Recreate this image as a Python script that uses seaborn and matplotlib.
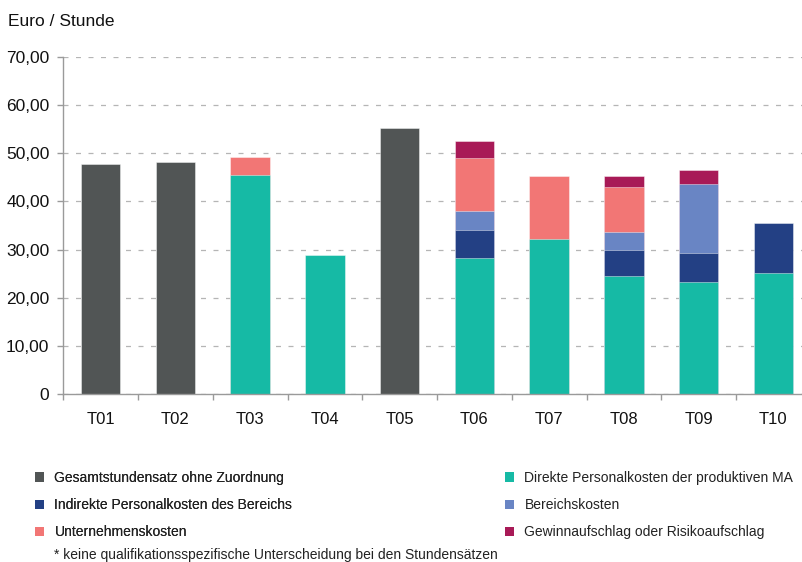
import numpy as np
import pandas as pd
import matplotlib
matplotlib.use("Agg")
import matplotlib.pyplot as plt
from matplotlib.patches import Patch
from matplotlib.ticker import FuncFormatter
import seaborn as sns

# Daten (Euro / Stunde)
categories = ["T01", "T02", "T03", "T04", "T05", "T06", "T07", "T08", "T09", "T10"]
gesamt      = [47.8, 48.2, 0.0, 0.0, 55.2, 0.0, 0.0, 0.0, 0.0, 0.0]
direkt      = [0.0, 0.0, 45.5, 28.9, 0.0, 28.3, 32.3, 24.6, 23.2, 25.1]
indirekt    = [0.0, 0.0, 0.0, 0.0, 0.0, 5.8, 0.0, 5.4, 6.2, 10.5]
bereich     = [0.0, 0.0, 0.0, 0.0, 0.0, 3.9, 0.0, 3.7, 14.2, 0.0]
unternehmen = [0.0, 0.0, 3.7, 0.0, 0.0, 10.9, 12.9, 9.3, 0.0, 0.0]
gewinn      = [0.0, 0.0, 0.0, 0.0, 0.0, 3.6, 0.0, 2.2, 3.0, 0.0]

labels = {
    "gesamt": "Gesamtstundensatz ohne Zuordnung",
    "direkt": "Direkte Personalkosten der produktiven MA",
    "indirekt": "Indirekte Personalkosten des Bereichs",
    "bereich": "Bereichskosten",
    "unternehmen": "Unternehmenskosten",
    "gewinn": "Gewinnaufschlag oder Risikoaufschlag",
}
colors = {
    "gesamt": "#515555",
    "direkt": "#16BAA5",
    "indirekt": "#234084",
    "bereich": "#6985C4",
    "unternehmen": "#F27675",
    "gewinn": "#A81A57",
}

df = pd.DataFrame({"kat": categories, "gesamt": gesamt, "direkt": direkt,
                   "indirekt": indirekt, "bereich": bereich,
                   "unternehmen": unternehmen, "gewinn": gewinn})

sns.set_theme(style="white")
plt.rcParams["font.family"] = ["Liberation Sans", "DejaVu Sans"]

fig = plt.figure(figsize=(8.03, 5.62), dpi=100)
ax = fig.add_axes([0.0788, 0.2984, 0.9309, 0.6007])

bar_kw = dict(width=0.53, saturation=1, edgecolor=(1, 1, 1, 0.5), linewidth=0.6,
              order=categories, ax=ax)

# gestapelt: kumulierte Summen, von oben nach unten gezeichnet
stack_order = ["direkt", "indirekt", "bereich", "unternehmen", "gewinn"]
cum = np.zeros(len(df))
layers = []
for name in stack_order:
    cum = cum + df[name].to_numpy()
    layers.append((name, cum.copy()))
for name, top in reversed(layers):
    mask = df[name].to_numpy() > 0
    sns.barplot(x=df["kat"][mask], y=top[mask], color=colors[name], **bar_kw)

mask = df["gesamt"].to_numpy() > 0
sns.barplot(x=df["kat"][mask], y=df["gesamt"][mask], color=colors["gesamt"], **bar_kw)

# Achsen
ax.set_xlim(-0.5, 9.5)
ax.set_ylim(0, 70)
ax.set_yticks(np.arange(0, 71, 10))
ax.yaxis.set_major_formatter(FuncFormatter(
    lambda v, p: "0" if v == 0 else f"{v:.2f}".replace(".", ",")))
ax.set_xticks(np.arange(len(categories)))
ax.set_xticklabels(categories)
ax.set_xticks(np.arange(-0.5, len(categories), 1), minor=True)
ax.set_xlabel("")
ax.set_ylabel("")

ax.set_axisbelow(True)
ax.yaxis.grid(True, color="#b5b5b5", linewidth=0.9, linestyle=(0, (4, 6)))
ax.xaxis.grid(False)
for s in ["top", "right"]:
    ax.spines[s].set_visible(False)
for s in ["left", "bottom"]:
    ax.spines[s].set_color("#9a9a9a")
    ax.spines[s].set_linewidth(1.0)

ax.tick_params(axis="y", which="major", left=True, length=4, width=1, color="#9a9a9a",
               labelsize=12.5, labelcolor="#111111", pad=6)
ax.tick_params(axis="x", which="major", bottom=False, length=0, labelsize=12,
               labelcolor="#111111", pad=13)
ax.tick_params(axis="x", which="minor", bottom=True, length=4, width=1, color="#9a9a9a",
               direction="out")

fig.text(8 / 803, 1 - 21 / 562, "Euro / Stunde", fontsize=12.5, color="#111111",
         ha="left", va="center")

# Legende in zwei Spalten
def patch(name):
    return Patch(facecolor=colors[name], edgecolor="none", label=labels[name])

leg_kw = dict(frameon=False, fontsize=10, handlelength=0.65, handleheight=0.65,
              handletextpad=0.75, labelspacing=0.95, borderpad=0, borderaxespad=0,
              loc="upper left", labelcolor="#222222")
leg1 = fig.legend(handles=[patch("gesamt"), patch("indirekt"), patch("unternehmen")],
                  bbox_to_anchor=(35 / 803, 1 - 471 / 562), **leg_kw)
fig.add_artist(leg1)
fig.legend(handles=[patch("direkt"), patch("bereich"), patch("gewinn")],
           bbox_to_anchor=(505 / 803, 1 - 471 / 562), **leg_kw)

fig.text(54 / 803, 1 - 555 / 562,
         "* keine qualifikationsspezifische Unterscheidung bei den Stundensätzen",
         fontsize=10, color="#222222", ha="left", va="center")

fig.savefig("out.png", dpi=100)
